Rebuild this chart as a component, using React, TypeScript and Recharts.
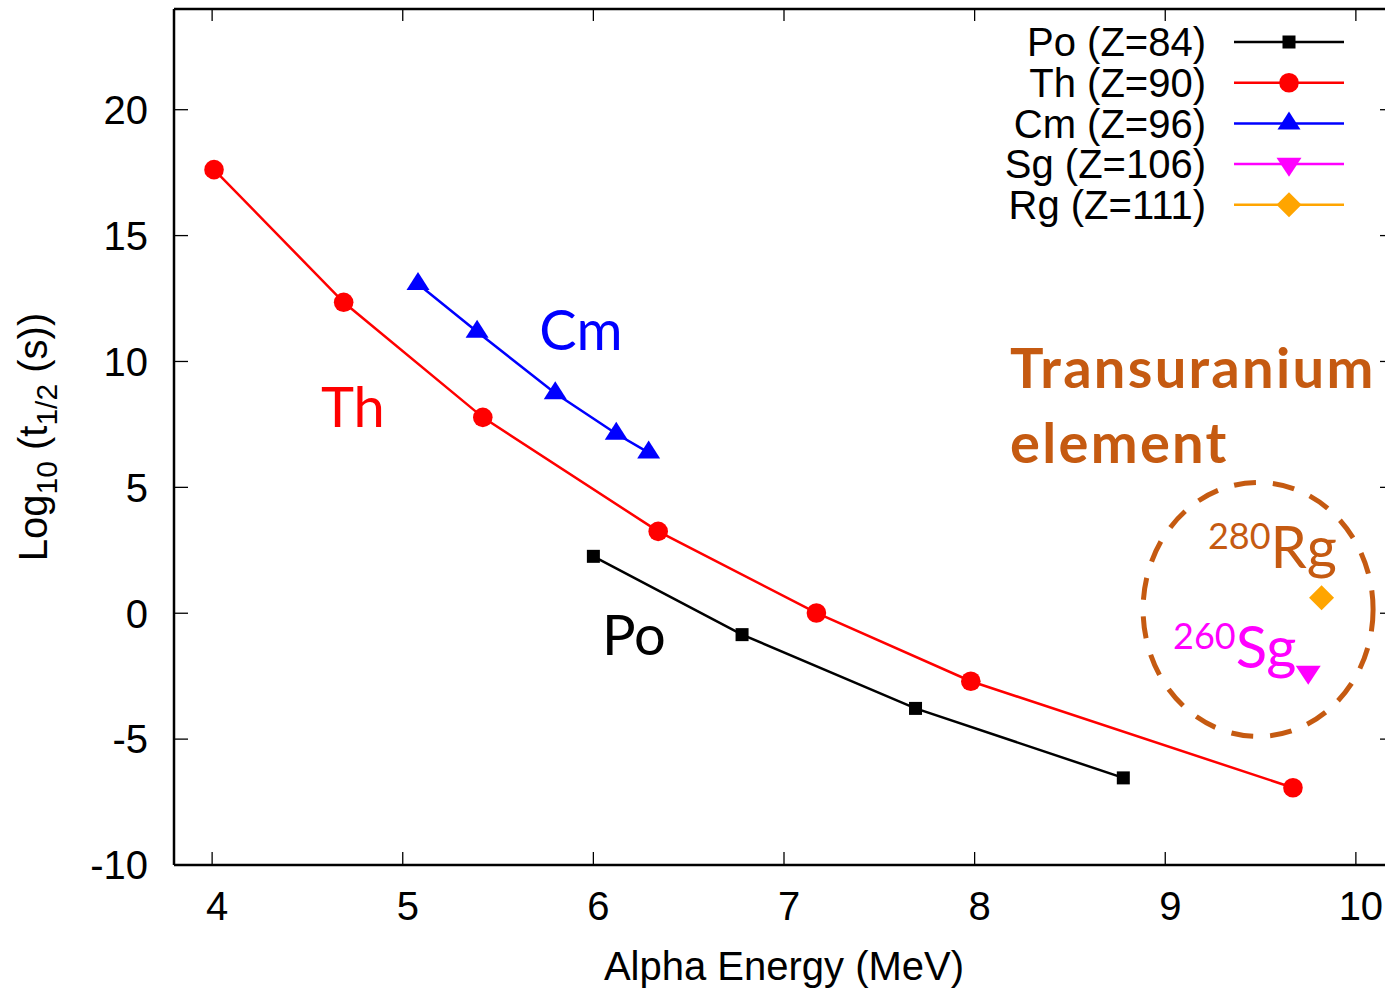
import React from 'react';
import { LineChart, Line, XAxis, YAxis, Legend, ReferenceDot, ReferenceLine } from 'recharts';

// ---------- data ----------
const poEnergy = [6.0, 6.78, 7.69, 8.78];
const poLogT = [2.26, -0.85, -3.78, -6.54];

const thEnergy = [4.01, 4.69, 5.42, 6.34, 7.17, 7.98, 9.67];
const thLogT = [17.62, 12.35, 7.78, 3.25, 0.01, -2.7, -6.93];

const cmEnergy = [5.08, 5.39, 5.8, 6.12, 6.29];
const cmLogT = [13.08, 11.18, 8.74, 7.13, 6.38];

const sgEnergy = [9.75];
const sgLogT = [-2.34];

const rgEnergy = [9.82];
const rgLogT = [0.62];

const xTicks = [4, 5, 6, 7, 8, 9, 10];
const yTicks = [-10, -5, 0, 5, 10, 15, 20];
const xDomain = [3.8, 10.2];
const yDomain = [-10, 24];

const seriesNames = ['Po (Z=84)', 'Th (Z=90)', 'Cm (Z=96)', 'Sg (Z=106)', 'Rg (Z=111)'];

const toPoints = (xs: number[], ys: number[]) => xs.map((x, i) => ({ x, y: ys[i] }));

const poData = toPoints(poEnergy, poLogT);
const thData = toPoints(thEnergy, thLogT);
const cmData = toPoints(cmEnergy, cmLogT);
const sgData = toPoints(sgEnergy, sgLogT);
const rgData = toPoints(rgEnergy, rgLogT);

// ---------- styles ----------
const AXIS_FONT = '"Liberation Sans", Arial, Helvetica, sans-serif';
const NOTE_FONT = 'Lato, "Open Sans", sans-serif';
const BROWN = '#C55A11';

const seriesStyle = [
  { color: '#000000', kind: 'square' },
  { color: '#FF0000', kind: 'circle' },
  { color: '#0000FF', kind: 'tri' },
  { color: '#FF00FF', kind: 'itri' },
  { color: '#FFA500', kind: 'diamond' },
];

type MarkerProps = { kind: string; cx: number; cy: number; color: string };
function Marker({ kind, cx, cy, color }: MarkerProps) {
  if (cx == null || cy == null) return <g />;
  if (kind === 'square') {
    return <rect x={cx - 6.5} y={cy - 6.5} width={13} height={13} fill={color} />;
  }
  if (kind === 'circle') {
    return <circle cx={cx} cy={cy} r={9.8} fill={color} />;
  }
  if (kind === 'tri') {
    const w = 23, h = 18;
    return (
      <polygon
        points={`${cx},${cy - (2 * h) / 3} ${cx - w / 2},${cy + h / 3} ${cx + w / 2},${cy + h / 3}`}
        fill={color}
      />
    );
  }
  if (kind === 'itri') {
    const w = 25, h = 19;
    return (
      <polygon
        points={`${cx},${cy + (2 * h) / 3} ${cx - w / 2},${cy - h / 3} ${cx + w / 2},${cy - h / 3}`}
        fill={color}
      />
    );
  }
  const d = 12.5;
  return (
    <polygon points={`${cx},${cy - d} ${cx + d},${cy} ${cx},${cy + d} ${cx - d},${cy}`} fill={color} />
  );
}

const dotFor = (idx: number) => (p: any) => (
  <Marker
    key={`m-${idx}-${p.index}`}
    kind={seriesStyle[idx].kind}
    cx={p.cx}
    cy={p.cy}
    color={seriesStyle[idx].color}
  />
);

// ---------- ticks ----------
const BottomTick = (p: any) => (
  <g>
    <line x1={p.x} x2={p.x} y1={p.y} y2={p.y - 13} stroke="#000" strokeWidth={1.3} />
    <text x={p.x + 5} y={p.y + 55} textAnchor="middle" fontFamily={AXIS_FONT} fontSize={40} fill="#000">
      {p.payload.value}
    </text>
  </g>
);
const LeftTick = (p: any) => (
  <g>
    <line x1={p.x} x2={p.x + 14} y1={p.y} y2={p.y} stroke="#000" strokeWidth={1.3} />
    <text x={p.x - 26} y={p.y + 14.3} textAnchor="end" fontFamily={AXIS_FONT} fontSize={40} fill="#000">
      {p.payload.value}
    </text>
  </g>
);
// mirror ticks on the top and right borders
const topTickShape = (p: any) => (
  <line x1={p.cx} x2={p.cx} y1={p.cy} y2={p.cy + 12} stroke="#000" strokeWidth={1.3} />
);
const rightTickShape = (p: any) => (
  <line x1={p.cx} x2={p.cx - 14} y1={p.cy} y2={p.cy} stroke="#000" strokeWidth={1.3} />
);

// ---------- legend ----------
const renderLegend = () => (
  <svg width={380} height={220} style={{ overflow: 'visible', display: 'block' }}>
    {seriesNames.map((name, i) => {
      const y = 24 + i * 40.7;
      return (
        <g key={name}>
          <text x={216} y={y + 14.3} textAnchor="end" fontFamily={AXIS_FONT} fontSize={40} fill="#000">
            {name}
          </text>
          <line x1={244} x2={354} y1={y} y2={y} stroke={seriesStyle[i].color} strokeWidth={2.5} />
          <Marker kind={seriesStyle[i].kind} cx={299} cy={y} color={seriesStyle[i].color} />
        </g>
      );
    })}
  </svg>
);

// ---------- annotations ----------
const noteText = (label: string, color: string, size = 56) => (p: any) => (
  <text x={p.cx} y={p.cy} fontFamily={NOTE_FONT} fontSize={size} fill={color}>
    {label}
  </text>
);

const isotopeText = (mass: string, sym: string, color: string) => (p: any) => (
  <text x={p.cx} y={p.cy} fontFamily={NOTE_FONT} fill={color}>
    <tspan fontSize={36} dy={-19}>
      {mass}
    </tspan>
    <tspan fontSize={58} dy={19}>
      {sym}
    </tspan>
  </text>
);

const transText = (p: any) => (
  <text
    x={p.cx}
    y={p.cy}
    fontFamily={NOTE_FONT}
    fontSize={56}
    fontWeight={700}
    letterSpacing={2.3}
    fill={BROWN}
  >
    <tspan x={p.cx}>Transuranium</tspan>
    <tspan x={p.cx} dy={75}>
      element
    </tspan>
  </text>
);

const ellipseShape = (p: any) => (
  <ellipse
    cx={p.cx}
    cy={p.cy}
    rx={115}
    ry={127}
    fill="none"
    stroke={BROWN}
    strokeWidth={5}
    strokeDasharray="22 17"
  />
);

const XLabel = (p: any) => {
  const vb = p.viewBox || {};
  return (
    <text
      x={vb.x + vb.width / 2}
      y={vb.y + 115}
      textAnchor="middle"
      fontFamily={AXIS_FONT}
      fontSize={40}
      fill="#000"
    >
      Alpha Energy (MeV)
    </text>
  );
};

const YLabel = (p: any) => {
  const vb = p.viewBox || {};
  const cx = 47;
  const cy = vb.y + vb.height / 2;
  return (
    <text
      x={cx}
      y={cy}
      transform={`rotate(-90, ${cx}, ${cy})`}
      textAnchor="middle"
      fontFamily={AXIS_FONT}
      fontSize={40}
      fill="#000"
    >
      Log
      <tspan fontSize={30} dy={10}>
        10
      </tspan>
      <tspan dy={-10}>{' (t'}</tspan>
      <tspan fontSize={30} dy={10}>
        1/2
      </tspan>
      <tspan dy={-10}>{' (s))'}</tspan>
    </text>
  );
};

export default function App() {
  return (
    <div
      style={{
        position: 'absolute',
        left: 0,
        top: 0,
        width: 1385,
        height: 991,
        overflow: 'hidden',
        background: '#fff',
      }}
    >
      <LineChart width={1400} height={991} margin={{ top: 9, right: 6, left: 0, bottom: 0 }}>
        <XAxis
          type="number"
          dataKey="x"
          domain={xDomain}
          ticks={xTicks}
          interval={0}
          allowDataOverflow
          height={126}
          tickSize={0}
          tickMargin={0}
          tickLine={false}
          axisLine={{ stroke: '#000', strokeWidth: 2.5 }}
          tick={BottomTick}
          label={{ content: XLabel }}
        />
        <YAxis
          type="number"
          domain={yDomain}
          ticks={yTicks}
          interval={0}
          allowDataOverflow
          width={174}
          tickSize={0}
          tickMargin={0}
          tickLine={false}
          axisLine={{ stroke: '#000', strokeWidth: 2.5 }}
          tick={LeftTick}
          label={{ content: YLabel }}
        />
        <Legend
          layout="vertical"
          align="center"
          verticalAlign="middle"
          content={renderLegend}
          wrapperStyle={{ left: 990, top: 18, width: 380, height: 220 }}
        />

        {/* plot frame: top and right borders with mirrored ticks */}
        <ReferenceLine y={yDomain[1]} stroke="#000" strokeWidth={2.5} />
        <ReferenceLine x={xDomain[1]} stroke="#000" strokeWidth={2.5} />
        {xTicks.map((t) => (
          <ReferenceDot key={`tt-${t}`} x={t} y={yDomain[1]} r={0} shape={topTickShape} />
        ))}
        {yTicks.map((t) => (
          <ReferenceDot key={`rt-${t}`} x={xDomain[1]} y={t} r={0} shape={rightTickShape} />
        ))}

        <ReferenceDot x={9.487} y={0.15} r={0} shape={ellipseShape} />
        <ReferenceDot x={4.571} y={7.4} r={0} shape={noteText('Th', '#FF0000')} />
        <ReferenceDot x={5.716} y={10.46} r={0} shape={noteText('Cm', '#0000FF')} />
        <ReferenceDot x={6.045} y={-1.66} r={0} shape={noteText('Po', '#000000')} />
        <ReferenceDot x={8.186} y={8.95} r={0} shape={transText} />
        <ReferenceDot x={9.224} y={1.8} r={0} shape={isotopeText('280', 'Rg', BROWN)} />
        <ReferenceDot x={9.041} y={-2.18} r={0} shape={isotopeText('260', 'Sg', '#FF00FF')} />

        <Line
          data={poData}
          dataKey="y"
          name={seriesNames[0]}
          type="linear"
          stroke={seriesStyle[0].color}
          strokeWidth={2.5}
          dot={dotFor(0)}
          isAnimationActive={false}
        />
        <Line
          data={thData}
          dataKey="y"
          name={seriesNames[1]}
          type="linear"
          stroke={seriesStyle[1].color}
          strokeWidth={2.5}
          dot={dotFor(1)}
          isAnimationActive={false}
        />
        <Line
          data={cmData}
          dataKey="y"
          name={seriesNames[2]}
          type="linear"
          stroke={seriesStyle[2].color}
          strokeWidth={2.5}
          dot={dotFor(2)}
          isAnimationActive={false}
        />
        <Line
          data={sgData}
          dataKey="y"
          name={seriesNames[3]}
          type="linear"
          stroke={seriesStyle[3].color}
          strokeWidth={2.5}
          dot={dotFor(3)}
          isAnimationActive={false}
        />
        <Line
          data={rgData}
          dataKey="y"
          name={seriesNames[4]}
          type="linear"
          stroke={seriesStyle[4].color}
          strokeWidth={2.5}
          dot={dotFor(4)}
          isAnimationActive={false}
        />
      </LineChart>
    </div>
  );
}
